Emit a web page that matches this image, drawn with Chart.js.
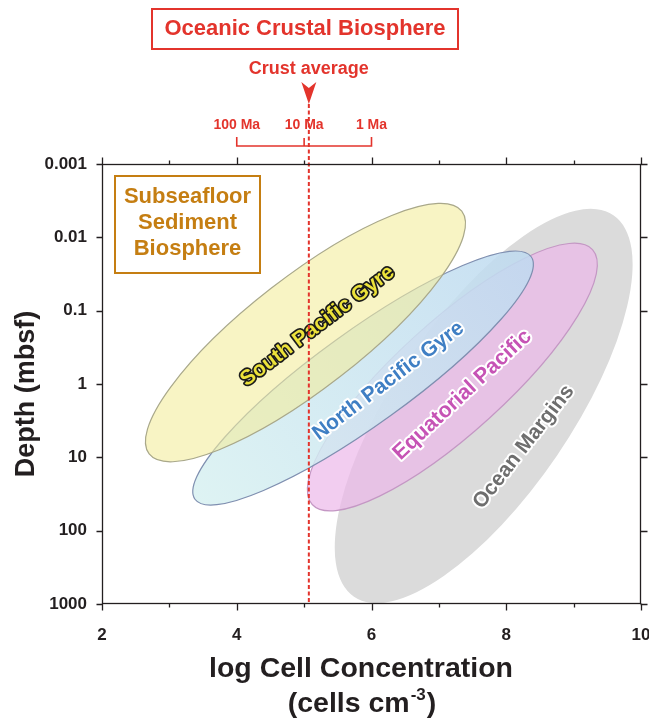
<!DOCTYPE html>
<html>
<head>
<meta charset="utf-8">
<title>Subseafloor biosphere: cell concentration vs depth</title>
<script src="https://cdn.jsdelivr.net/npm/chart.js@4.4.1/dist/chart.umd.min.js"></script>
<style>
  html, body { margin: 0; padding: 0; background: #ffffff; }
  canvas { display: block; }
</style>
</head>
<body>
<canvas id="chart" width="649" height="720"></canvas>
<script>
// Sediment habitats, each an ellipse given by the two tips of its long axis
// (shallow tip and deep tip) in data units, plus its width relative to its length.
const regionNames     = ['Ocean Margins', 'Equatorial Pacific', 'North Pacific Gyre', 'South Pacific Gyre'];
const shallowTipCells = [9.59, 9.28, 8.37, 7.34];
const shallowTipDepth = [0.0050, 0.0147, 0.0184, 0.0044];
const deepTipCells    = [5.74, 5.12, 3.38, 2.70];
const deepTipDepth    = [794, 44, 37.3, 9.0];
const widthRatio      = [0.384, 0.292, 0.225, 0.283];
const labelCells      = [8.26, 7.35, 6.25, 5.20];
const labelDepth      = [7.2, 1.41, 0.91, 0.162];

// Oceanic crust: average cell concentration and crust-age scale
const crustAverageCells = 5.07;
const crustAgeLabels    = ['100 Ma', '10 Ma', '1 Ma'];
const crustAgeCells     = [4, 5, 6];

// Axis ticks
const xMajorTicks     = [2, 4, 6, 8, 10];
const xMinorTicks     = [3, 5, 7, 9];
const depthTicks      = [0.001, 0.01, 0.1, 1, 10, 100, 1000];
const depthTickLabels = ['0.001', '0.01', '0.1', '1', '10', '100', '1000'];

const FONT = '"Liberation Sans", Arial, Helvetica, sans-serif';
const INK = '#231f20';
const RED = '#e3342c';

const regionStyles = {
  'Ocean Margins':      { fill: 'rgb(219,219,219)', stroke: null, text: '#6e6e6e', halo: '#ffffff', angle: -52, size: 21 },
  'Equatorial Pacific': { fill: 'rgba(236,184,234,0.7)', stroke: '#c497c4', text: '#c653b5', halo: '#ffffff', angle: -43, size: 21.5 },
  'North Pacific Gyre': { fill: ['rgba(216,241,241,0.85)', 'rgba(190,218,240,0.85)'], stroke: '#7f8fb0', text: '#3f7fc4', halo: '#ffffff', angle: -37, size: 21 },
  'South Pacific Gyre': { fill: 'rgba(243,237,157,0.6)', stroke: '#a9a88a', text: '#ece23a', halo: '#1a1a1a', angle: -37, size: 21 }
};

const datasets = regionNames.map((name, i) => ({
  label: name,
  data: [
    { x: shallowTipCells[i], y: shallowTipDepth[i] },
    { x: deepTipCells[i], y: deepTipDepth[i] }
  ],
  pointRadius: 0,
  pointHoverRadius: 0,
  showLine: false
}));

const habitatPlugin = {
  id: 'habitats',
  beforeDatasetsDraw(chart) {
    const ctx = chart.ctx;
    const area = chart.chartArea;
    const xs = chart.scales.x, ys = chart.scales.y;
    ctx.save();
    ctx.beginPath();
    ctx.rect(area.left, area.top, area.right - area.left, area.bottom - area.top);
    ctx.clip();

    // ellipses
    regionNames.forEach((name, i) => {
      const st = regionStyles[name];
      const pts = chart.getDatasetMeta(i).data;
      const p1 = pts[0], p2 = pts[1];
      const cx = (p1.x + p2.x) / 2, cy = (p1.y + p2.y) / 2;
      const a = Math.hypot(p1.x - p2.x, p1.y - p2.y) / 2;
      const b = a * widthRatio[i];
      const rot = Math.atan2(p1.y - p2.y, p1.x - p2.x);
      ctx.beginPath();
      ctx.ellipse(cx, cy, a, b, rot, 0, Math.PI * 2);
      if (Array.isArray(st.fill)) {
        const g = ctx.createLinearGradient(p2.x, p2.y, p1.x, p1.y);
        g.addColorStop(0, st.fill[0]);
        g.addColorStop(1, st.fill[1]);
        ctx.fillStyle = g;
      } else {
        ctx.fillStyle = st.fill;
      }
      ctx.fill();
      if (st.stroke) {
        ctx.strokeStyle = st.stroke;
        ctx.lineWidth = 1.2;
        ctx.stroke();
      }
    });

    // region names
    regionNames.forEach((name, i) => {
      const st = regionStyles[name];
      const x = xs.getPixelForValue(labelCells[i]);
      const y = ys.getPixelForValue(labelDepth[i]);
      ctx.save();
      ctx.translate(x, y);
      ctx.rotate(st.angle * Math.PI / 180);
      ctx.font = 'bold ' + st.size + 'px ' + FONT;
      ctx.textAlign = 'center';
      ctx.textBaseline = 'middle';
      ctx.lineJoin = 'round';
      ctx.strokeStyle = st.halo;
      ctx.lineWidth = name === 'South Pacific Gyre' ? 3.4 : 4;
      ctx.strokeText(name, 0, 0);
      ctx.fillStyle = st.text;
      ctx.fillText(name, 0, 0);
      ctx.restore();
    });
    ctx.restore();
  },
  afterDraw(chart) {
    const ctx = chart.ctx;
    const area = chart.chartArea;
    const xs = chart.scales.x, ys = chart.scales.y;
    ctx.save();

    // crust average: arrow and dotted line
    const cx = xs.getPixelForValue(crustAverageCells);
    ctx.strokeStyle = RED;
    ctx.lineWidth = 2;
    ctx.setLineDash([4, 2.5]);
    ctx.beginPath();
    ctx.moveTo(cx, 104);
    ctx.lineTo(cx, area.bottom);
    ctx.stroke();
    ctx.setLineDash([]);
    ctx.fillStyle = RED;
    ctx.beginPath();
    ctx.moveTo(cx, 104);
    ctx.lineTo(cx - 7.5, 82);
    ctx.lineTo(cx, 88);
    ctx.lineTo(cx + 7.5, 82);
    ctx.closePath();
    ctx.fill();

    ctx.font = 'bold 18px ' + FONT;
    ctx.textAlign = 'center';
    ctx.textBaseline = 'middle';
    ctx.fillText('Crust average', cx, 69);

    // crust age bracket
    const ax = crustAgeCells.map(v => xs.getPixelForValue(v));
    ctx.lineWidth = 1.6;
    ctx.beginPath();
    ctx.moveTo(ax[0], 137); ctx.lineTo(ax[0], 146);
    ctx.lineTo(ax[2], 146); ctx.lineTo(ax[2], 137);
    ctx.moveTo(ax[1], 138); ctx.lineTo(ax[1], 146);
    ctx.stroke();
    ctx.font = 'bold 14px ' + FONT;
    crustAgeLabels.forEach((t, i) => ctx.fillText(t, ax[i], 125));

    // crustal biosphere title box
    ctx.lineWidth = 2;
    ctx.strokeRect(152, 9, 306, 40);
    ctx.font = 'bold 22px ' + FONT;
    ctx.fillText('Oceanic Crustal Biosphere', 305, 29);

    // sediment biosphere box
    const orange = '#c57e12';
    ctx.strokeStyle = orange;
    ctx.lineWidth = 2;
    ctx.fillStyle = '#ffffff';
    ctx.fillRect(115, 176, 145, 97);
    ctx.strokeRect(115, 176, 145, 97);
    ctx.fillStyle = orange;
    ctx.font = 'bold 22px ' + FONT;
    ctx.fillText('Subseafloor', 187.5, 197);
    ctx.fillText('Sediment', 187.5, 223);
    ctx.fillText('Biosphere', 187.5, 249);

    // plot frame
    ctx.strokeStyle = INK;
    ctx.lineWidth = 1.3;
    const L = Math.round(area.left) + 0.5, R = Math.round(area.right) - 0.5;
    const T = Math.round(area.top) + 0.5, B = Math.round(area.bottom) - 0.5;
    ctx.strokeRect(L, T, R - L, B - T);

    // tick marks on all four sides
    ctx.beginPath();
    xMajorTicks.forEach(v => {
      const x = Math.round(xs.getPixelForValue(v)) + 0.5;
      ctx.moveTo(x, B); ctx.lineTo(x, B + 7);
      ctx.moveTo(x, T); ctx.lineTo(x, T - 7);
    });
    xMinorTicks.forEach(v => {
      const x = Math.round(xs.getPixelForValue(v)) + 0.5;
      ctx.moveTo(x, B); ctx.lineTo(x, B + 4);
      ctx.moveTo(x, T); ctx.lineTo(x, T - 4);
    });
    depthTicks.forEach(v => {
      const y = Math.round(ys.getPixelForValue(v)) + 0.5;
      ctx.moveTo(L, y); ctx.lineTo(L - 6, y);
      ctx.moveTo(R, y); ctx.lineTo(R + 7, y);
    });
    ctx.stroke();

    // axis titles
    ctx.fillStyle = INK;
    ctx.save();
    ctx.translate(27, 394);
    ctx.rotate(-Math.PI / 2);
    ctx.font = 'bold 27px ' + FONT;
    ctx.textAlign = 'center';
    ctx.textBaseline = 'middle';
    ctx.fillText('Depth (mbsf)', 0, 0);
    ctx.restore();

    ctx.textAlign = 'left';
    ctx.textBaseline = 'alphabetic';
    ctx.font = 'bold 28.5px ' + FONT;
    const t1 = 'log Cell Concentration';
    const w1 = ctx.measureText(t1).width;
    ctx.fillText(t1, 361 - w1 / 2, 677);
    const a1 = '(cells cm', a3 = ')', sup = '-3';
    const wa = ctx.measureText(a1).width, wc = ctx.measureText(a3).width;
    ctx.font = 'bold 17px ' + FONT;
    const wb = ctx.measureText(sup).width;
    const sx = 361 - (wa + wb + wc) / 2;
    ctx.font = 'bold 28.5px ' + FONT;
    ctx.fillText(a1, sx, 712);
    ctx.font = 'bold 17px ' + FONT;
    ctx.fillText(sup, sx + wa + 1, 700);
    ctx.font = 'bold 28.5px ' + FONT;
    ctx.fillText(a3, sx + wa + wb + 2, 712);

    ctx.restore();
  }
};

Chart.defaults.font.family = FONT;

new Chart(document.getElementById('chart'), {
  type: 'scatter',
  data: { datasets },
  options: {
    responsive: false,
    animation: false,
    devicePixelRatio: 1,
    events: [],
    layout: { padding: { top: 164, right: 8, bottom: 0, left: 0 } },
    plugins: {
      legend: { display: false },
      tooltip: { enabled: false }
    },
    scales: {
      x: {
        type: 'linear',
        min: 2,
        max: 10,
        afterBuildTicks: s => { s.ticks = xMajorTicks.map(v => ({ value: v })); },
        afterFit: s => { s.height = 116; s.paddingLeft = 0; s.paddingRight = 0; },
        ticks: {
          color: INK,
          padding: 21,
          maxRotation: 0,
          font: { size: 17, weight: 'bold' }
        },
        grid: { display: false, drawTicks: false },
        border: { display: false }
      },
      y: {
        type: 'logarithmic',
        reverse: true,
        min: 0.001,
        max: 1000,
        afterBuildTicks: s => { s.ticks = depthTicks.map(v => ({ value: v })); },
        afterFit: s => { s.width = 102; s.paddingTop = 0; s.paddingBottom = 0; },
        ticks: {
          color: INK,
          padding: 15,
          font: { size: 17, weight: 'bold' },
          callback: (v) => {
            const k = depthTicks.findIndex(d => Math.abs(Math.log10(d) - Math.log10(v)) < 1e-6);
            return k >= 0 ? depthTickLabels[k] : '';
          }
        },
        grid: { display: false, drawTicks: false },
        border: { display: false }
      }
    }
  },
  plugins: [habitatPlugin]
});
</script>
</body>
</html>
